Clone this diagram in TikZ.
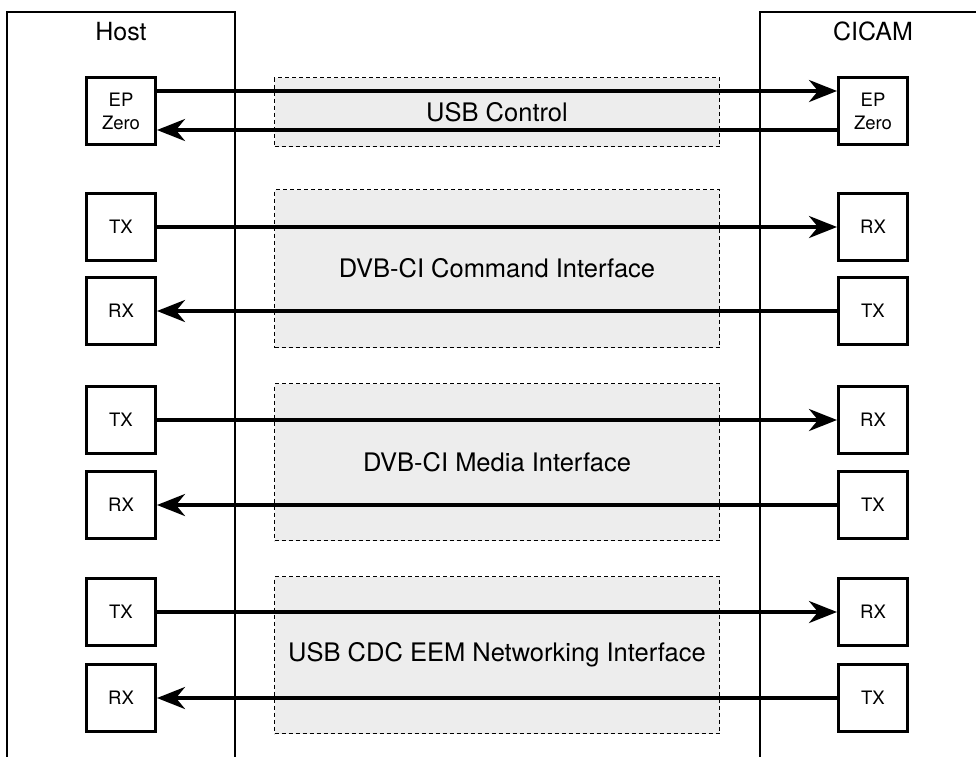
\documentclass[tikz,border=0pt]{standalone}
\usepackage{fontspec}
\setmainfont{TeX Gyre Heros}
\usetikzlibrary{arrows.meta,calc}
\begin{document}
\begin{tikzpicture}[x=1pt,y=-1pt,
  frame/.style={line width=2pt},
  port/.style={draw,line width=3pt,minimum width=69pt,minimum height=67pt,inner sep=0pt,align=center,font=\fontsize{18.5}{23}\selectfont},
  iface/.style={draw,dash pattern=on 4pt off 3pt,line width=1pt,fill=black!7,minimum width=445pt,inner sep=0pt,font=\fontsize{25.5}{29}\selectfont},
  link/.style={line width=3.7pt,-{Stealth[length=28pt,width=22pt,inset=9pt]}},
  title/.style={anchor=base,font=\fontsize{25}{29}\selectfont}]
\useasboundingbox (0,0) rectangle (976,756);
% interface areas
\node[iface,minimum height=69pt] (usb) at (497,112) {USB Control};
\node[iface,minimum height=158pt] (cmd) at (497,268.5) {DVB-CI Command Interface};
\node[iface,minimum height=157pt] (med) at (497,462) {DVB-CI Media Interface};
\node[iface,minimum height=157pt] (eem) at (497,655) {USB CDC EEM Networking Interface};
% frames
\coordinate (hbl) at (7,757);
\coordinate (htl) at (7,11.5);
\coordinate (htr) at (235,11.5);
\coordinate (hbr) at (235,757);
\draw[frame] (hbl) -- (htl) -- (htr) -- (hbr);
\coordinate (cbl) at (760,757);
\coordinate (ctl) at (760,11.5);
\coordinate (ctr) at (977,11.5);
\draw[frame] (cbl) -- (ctl) -- (ctr);
\node[title] (host) at (121,40) {Host};
\node[title] (cicam) at (873,40) {CICAM};
% ports
\node[port] (h0) at (121,111) {EP\\Zero};
\node[port] (c0) at (873,111) {EP\\Zero};
\node[port] (h1) at (121,227) {TX};
\node[port] (c1) at (873,227) {RX};
\node[port] (h2) at (121,311) {RX};
\node[port] (c2) at (873,311) {TX};
\node[port] (h3) at (121,420) {TX};
\node[port] (c3) at (873,420) {RX};
\node[port] (h4) at (121,505) {RX};
\node[port] (c4) at (873,505) {TX};
\node[port] (h5) at (121,612) {TX};
\node[port] (c5) at (873,612) {RX};
\node[port] (h6) at (121,698) {RX};
\node[port] (c6) at (873,698) {TX};
% links
\draw[link] ([yshift=20pt]h0.east) -- ([yshift=20pt]c0.west);
\draw[link] ([yshift=-19pt]c0.west) -- ([yshift=-19pt]h0.east);
\draw[link] (h1.east) -- (c1.west);
\draw[link] (c2.west) -- (h2.east);
\draw[link] (h3.east) -- (c3.west);
\draw[link] (c4.west) -- (h4.east);
\draw[link] (h5.east) -- (c5.west);
\draw[link] (c6.west) -- (h6.east);
\end{tikzpicture}
\end{document}
